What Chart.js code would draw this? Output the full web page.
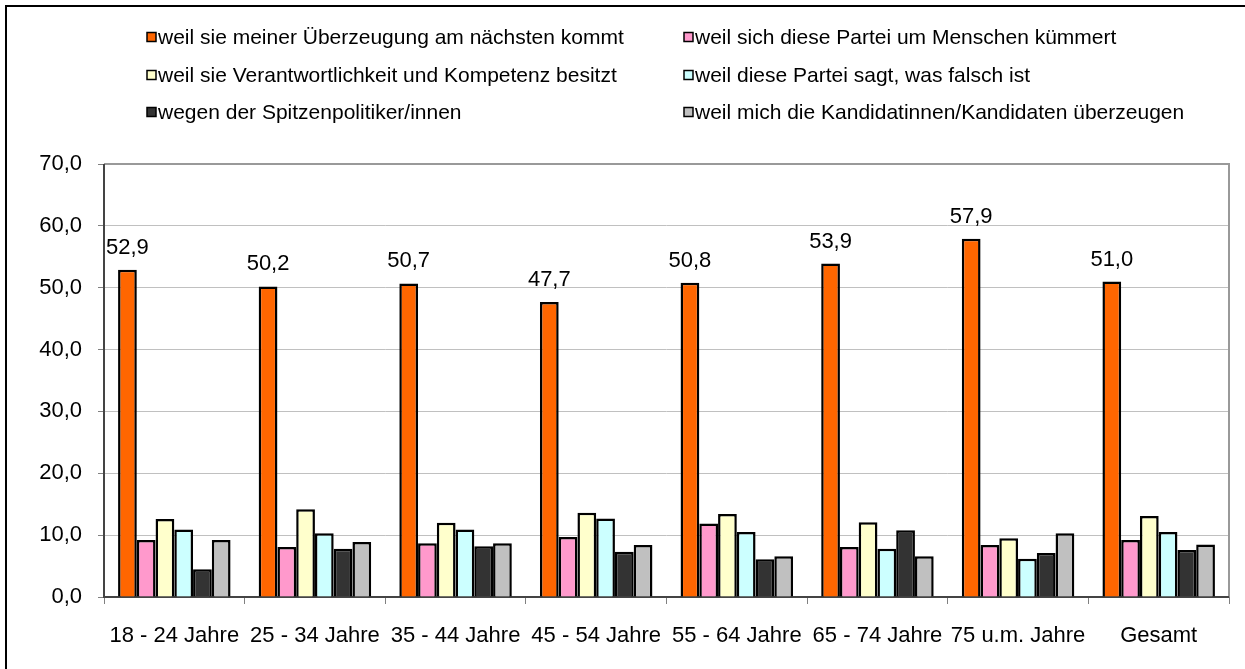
<!DOCTYPE html>
<html>
<head>
<meta charset="utf-8">
<script src="https://cdn.jsdelivr.net/npm/chart.js@4/dist/chart.umd.min.js"></script>
<style>
  html, body { margin: 0; padding: 0; background: #fff; }
  #wrap { position: relative; width: 1245px; height: 669px; }
</style>
</head>
<body>
<div id="wrap"><canvas id="c" width="1245" height="669"></canvas></div>
<script>
const categories = ["18 - 24 Jahre", "25 - 34 Jahre", "35 - 44 Jahre", "45 - 54 Jahre", "55 - 64 Jahre", "65 - 74 Jahre", "75 u.m. Jahre", "Gesamt"];
const seriesNames = [
  "weil sie meiner Überzeugung am nächsten kommt",
  "weil sich diese Partei um Menschen kümmert",
  "weil sie Verantwortlichkeit und Kompetenz besitzt",
  "weil diese Partei sagt, was falsch ist",
  "wegen der Spitzenpolitiker/innen",
  "weil mich die Kandidatinnen/Kandidaten überzeugen"
];
const ueberzeugung   = [52.9, 50.2, 50.7, 47.7, 50.8, 53.9, 57.9, 51.0];
const menschen       = [9.2, 8.1, 8.7, 9.7, 11.9, 8.1, 8.4, 9.2];
const kompetenz      = [12.6, 14.2, 12.0, 13.6, 13.4, 12.1, 9.5, 13.1];
const falsch         = [10.9, 10.3, 10.9, 12.7, 10.5, 7.8, 6.2, 10.5];
const spitzenpolitik = [4.5, 7.8, 8.2, 7.3, 6.1, 10.8, 7.1, 7.6];
const kandidaten     = [9.2, 8.9, 8.7, 8.4, 6.6, 6.6, 10.3, 8.5];
const yTicks = [0, 10, 20, 30, 40, 50, 60, 70];

const colors = ["#FF6600", "#FF99CC", "#FFFFCC", "#CCFFFF", "#333333", "#C0C0C0"];
const seriesData = [ueberzeugung, menschen, kompetenz, falsch, spitzenpolitik, kandidaten];
const FONT = '"Liberation Sans", Arial, sans-serif';
const fmt = v => v.toFixed(1).replace('.', ',');

const frame = {
  id: 'frame',
  beforeDraw(chart) {
    const ctx = chart.ctx;
    ctx.save();
    ctx.fillStyle = '#fff';
    ctx.fillRect(0, 0, chart.width, chart.height);
    ctx.strokeStyle = '#000';
    ctx.lineWidth = 2;
    ctx.strokeRect(6, 6, chart.width + 10, chart.height + 10);
    ctx.restore();
  },
  beforeDatasetsDraw(chart) {
    const a = chart.chartArea, ctx = chart.ctx;
    ctx.save();
    ctx.lineWidth = 2;
    ctx.strokeStyle = '#999';
    ctx.beginPath();
    ctx.moveTo(a.left, a.top); ctx.lineTo(a.right, a.top); ctx.lineTo(a.right, a.bottom);
    ctx.stroke();
    ctx.strokeStyle = '#444';
    ctx.beginPath();
    ctx.moveTo(a.left, a.top); ctx.lineTo(a.left, a.bottom); ctx.lineTo(a.right, a.bottom);
    ctx.stroke();
    ctx.restore();
  },
  afterDraw(chart) {
    const ctx = chart.ctx;
    ctx.save();
    const meta = chart.getDatasetMeta(0);
    ctx.font = '22px ' + FONT;
    ctx.fillStyle = '#000';
    ctx.textAlign = 'center';
    ctx.textBaseline = 'alphabetic';
    meta.data.forEach((bar, i) => {
      ctx.fillText(fmt(chart.data.datasets[0].data[i]), bar.x, bar.y - 16);
    });
    const cols = [147, 684];
    const rows = [37, 75, 112];
    ctx.font = '21px ' + FONT;
    ctx.textAlign = 'left';
    ctx.textBaseline = 'middle';
    chart.data.datasets.forEach((ds, i) => {
      const x = cols[i % 2], y = rows[Math.floor(i / 2)];
      ctx.fillStyle = ds.backgroundColor;
      ctx.fillRect(x, y - 4.5, 9, 9);
      ctx.lineWidth = 1.5;
      ctx.strokeStyle = '#000';
      ctx.strokeRect(x, y - 4.5, 9, 9);
      ctx.fillStyle = '#000';
      ctx.fillText(ds.label, x + 11, y + 1);
    });
    ctx.restore();
  }
};

new Chart(document.getElementById('c'), {
  type: 'bar',
  data: {
    labels: categories,
    datasets: seriesNames.map((name, i) => ({
      label: name,
      data: seriesData[i],
      backgroundColor: colors[i],
      borderColor: '#000',
      borderWidth: 2.5,
      categoryPercentage: 0.8,
      barPercentage: 1.0
    }))
  },
  options: {
    responsive: false,
    animation: false,
    layout: { padding: { top: 164, right: 16, left: 0, bottom: 0 } },
    plugins: { legend: { display: false }, tooltip: { enabled: false } },
    scales: {
      x: {
        afterFit: s => { s.height = 72; },
        grid: { offset: true, drawOnChartArea: false, drawTicks: true, tickLength: 7, color: '#808080', lineWidth: 1 },
        border: { display: false },
        ticks: { autoSkip: false, maxRotation: 0, minRotation: 0, padding: 19, color: '#000', font: { family: FONT, size: 22 } }
      },
      y: {
        min: 0, max: 70,
        afterFit: s => { s.width = 104; },
        afterBuildTicks: s => { s.ticks = yTicks.map(v => ({ value: v })); },
        grid: { color: '#c0c0c0', lineWidth: 1, tickLength: 6, tickColor: '#808080' },
        border: { display: false },
        ticks: { padding: 16, color: '#000', font: { family: FONT, size: 22 }, callback: v => fmt(v) }
      }
    }
  },
  plugins: [frame]
});
</script>
</body>
</html>
